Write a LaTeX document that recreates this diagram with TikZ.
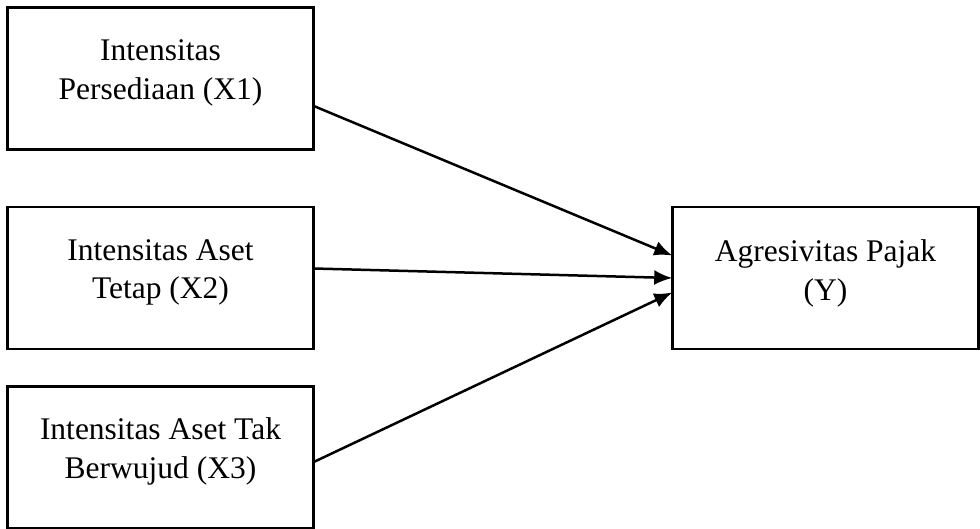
\documentclass[tikz,border=0pt]{standalone}
\usepackage{fontspec}
\setmainfont{Liberation Serif}
\usepackage{tikz}
\usetikzlibrary{calc,positioning,arrows.meta}

\begin{document}
\begin{tikzpicture}[x=1pt, y=-1pt,
      box/.style={
            rectangle, draw, line width=2.5pt,
            minimum width=306pt, minimum height=142pt,
            align=center, inner sep=0pt, text=black,
            font=\fontsize{31.5}{39}\selectfont,
            text height=52pt, text depth=10pt
        },
        -{Latex[length=18pt,width=15pt]}, line width=2.5pt
      ]
    \useasboundingbox (0,0) rectangle (980,529);

    \node[box] (X1) at (160.5,78.5) {Intensitas\\Persediaan (X1)};
    \node[box, below=55pt of X1] (X2) {Intensitas Aset\\Tetap (X2)};
    \node[box, below=35pt of X2] (X3) {Intensitas Aset Tak\\Berwujud (X3)};

    \node[box, right=356.5pt of X2, text height=56pt] (Y) {Agresivitas Pajak\\(Y)};

    \draw ($(X1.east)+(-1,27.5)$) -- ($(Y.west)+(1,-22.5)$);
    \draw ($(X2.east)+(-1,-9.5)$) -- ($(Y.west)+(1,0)$);
    \draw ($(X3.east)+(-1,4.5)$) -- ($(Y.west)+(1,14.5)$);
  \end{tikzpicture}
\end{document}
